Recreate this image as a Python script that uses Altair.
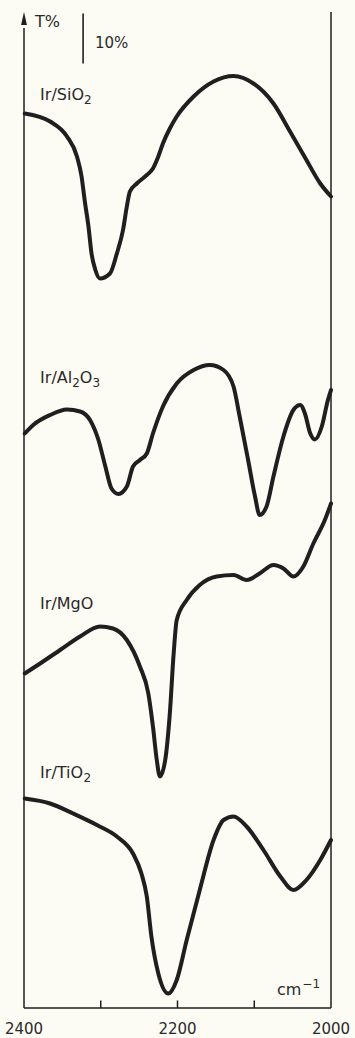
import altair as alt
import pandas as pd

# ---- data ----
sio2_wn = [2399, 2366, 2344, 2331, 2325, 2321, 2316, 2312, 2307, 2301, 2288, 2279, 2271, 2266,
           2262, 2253, 2240, 2232, 2225, 2219, 2210, 2201, 2179, 2153, 2127, 2101, 2075, 2053,
           2032, 2014, 2000]
sio2_t = [178.9, 177.3, 174.3, 170.3, 166.3, 161.6, 156.3, 150.9, 147.6, 145.9, 146.9, 150.9,
          155.6, 160.3, 163.3, 164.9, 166.6, 167.9, 170.3, 172.9, 175.9, 178.3, 182.3, 185.3,
          186.4, 184.9, 180.9, 175.2, 169.6, 164.9, 162.3]

al2o3_wn = [2399, 2388, 2366, 2344, 2327, 2314, 2303, 2294, 2286, 2277, 2266, 2258, 2249, 2240,
            2232, 2219, 2201, 2179, 2158, 2140, 2127, 2119, 2108, 2099, 2093, 2084, 2075, 2062,
            2049, 2040, 2034, 2027, 2021, 2012, 2004, 2000]
al2o3_t = [114.9, 116.6, 118.6, 119.7, 119.3, 117.6, 113.6, 108.3, 103.9, 102.8, 104.3, 108.3,
           109.6, 110.9, 114.9, 120.3, 124.9, 127.6, 128.6, 127.6, 124.3, 118.3, 109.6, 102.3,
           98.6, 100.3, 106.3, 114.3, 119.6, 120.6, 118.9, 114.9, 113.7, 116.3, 121.6, 123.6]

mgo_wn = [2399, 2379, 2353, 2327, 2301, 2284, 2266, 2249, 2238, 2232, 2227, 2223, 2216, 2210,
          2205, 2201, 2188, 2171, 2149, 2127, 2110, 2093, 2075, 2062, 2049, 2036, 2023, 2008, 2000]
mgo_t = [66.9, 68.9, 71.6, 74.3, 76.3, 75.9, 73.6, 68.3, 62.9, 56.3, 49.6, 46.3, 49.6, 58.9,
         70.9, 77.6, 81.6, 84.6, 86.3, 86.6, 85.6, 86.9, 88.6, 87.9, 86.3, 88.3, 92.9, 97.6, 100.9]

tio2_wn = [2399, 2366, 2336, 2305, 2279, 2258, 2247, 2240, 2234, 2225, 2212, 2201, 2188, 2171,
           2153, 2140, 2127, 2110, 2088, 2066, 2049, 2032, 2014, 2000]
tio2_t = [41.9, 40.9, 38.9, 36.6, 34.3, 30.9, 26.9, 22.3, 14.3, 6.9, 2.9, 5.6, 13.6, 23.6,
          33.6, 37.6, 38.3, 36.3, 31.6, 26.3, 23.6, 25.6, 29.6, 33.6]

series_names = ["Ir/SiO2", "Ir/Al2O3", "Ir/MgO", "Ir/TiO2"]
# label pieces: (text, is_subscript)
series_label_parts = [
    [("Ir/SiO", False), ("2", True)],
    [("Ir/Al", False), ("2", True), ("O", False), ("3", True)],
    [("Ir/MgO", False)],
    [("Ir/TiO", False), ("2", True)],
]
label_x = [2379, 2379, 2379, 2379]
label_t = [181.7, 125.0, 79.8, 46.0]

axis_labels = [2400, 2200, 2000]
tick_values = [2300, 2200, 2100]

# ---- build tables ----
rows = []
for name, wns, ts in zip(series_names, [sio2_wn, al2o3_wn, mgo_wn, tio2_wn],
                         [sio2_t, al2o3_t, mgo_t, tio2_t]):
    for w, t in zip(wns, ts):
        rows.append({"wn": w, "T": t, "series": name})
curves = pd.DataFrame(rows)
ticks = pd.DataFrame({"wn": tick_values})
xlabels = pd.DataFrame({"wn": axis_labels, "txt": [str(v) for v in axis_labels]})

xs = alt.Scale(domain=[2000, 2400], reverse=True, nice=False, zero=False)
ys = alt.Scale(domain=[0, 199.2], nice=False, zero=False)
INK = "#1f1f1f"
TXT = "#2a2a2a"
FONT = "DejaVu Sans"
MAIN = 16
SUB = 12

# approximate DejaVu Sans advance widths (em)
ADV = {"I": 0.295, "r": 0.411, "/": 0.337, "S": 0.635, "i": 0.278, "O": 0.787, "A": 0.684,
       "l": 0.278, "M": 0.863, "g": 0.635, "T": 0.611, "2": 0.636, "3": 0.636, "c": 0.55,
       "m": 0.974, "-": 0.361, "1": 0.636}

def text_w(s, size):
    return sum(ADV.get(ch, 0.6) for ch in s) * size

lines = alt.Chart(curves).mark_line(
    color=INK, strokeWidth=4, interpolate="monotone", strokeCap="round", strokeJoin="round"
).encode(
    x=alt.X("wn:Q", scale=xs, axis=None),
    y=alt.Y("T:Q", scale=ys, axis=None),
    detail="series:N",
    order=alt.Order("wn:Q", sort="descending"),
)

def piece(text, wn, t, size, dx=0, dy=0):
    return alt.Chart().mark_text(
        text=text, align="left", baseline="alphabetic", fontSize=size, font=FONT, color=TXT,
        dx=dx, dy=dy
    ).encode(x=alt.X(datum=wn, scale=xs, axis=None), y=alt.Y(datum=t, scale=ys, axis=None))

label_layers = []
for parts, wn, t in zip(series_label_parts, label_x, label_t):
    off = 0.0
    for txt, sub in parts:
        size = SUB if sub else MAIN
        label_layers.append(piece(txt, wn, t, size, dx=off, dy=4 if sub else 0))
        off += text_w(txt, size)

xlabel_text = alt.Chart(xlabels).mark_text(
    align="center", baseline="alphabetic", fontSize=15, font=FONT, color=TXT
).encode(
    x=alt.X("wn:Q", scale=xs, axis=None),
    y=alt.Y(datum=-5.2, scale=ys, axis=None),
    text="txt:N",
)

tick_rules = alt.Chart(ticks).mark_rule(color=INK, strokeWidth=1.5).encode(
    x=alt.X("wn:Q", scale=xs, axis=None),
    y=alt.Y(datum=0, scale=ys, axis=None),
    y2=alt.Y2(datum=1.5),
)

frame_style = dict(color=INK, strokeWidth=1.5)
left_axis = alt.Chart().mark_rule(**frame_style).encode(
    x=alt.X(datum=2400, scale=xs, axis=None),
    y=alt.Y(datum=0, scale=ys, axis=None), y2=alt.Y2(datum=196))
right_axis = alt.Chart().mark_rule(**frame_style).encode(
    x=alt.X(datum=2000, scale=xs, axis=None),
    y=alt.Y(datum=0, scale=ys, axis=None), y2=alt.Y2(datum=199.2))
bottom_axis = alt.Chart().mark_rule(**frame_style).encode(
    x=alt.X(datum=2400, scale=xs, axis=None), x2=alt.X2(datum=2000),
    y=alt.Y(datum=0, scale=ys, axis=None))
arrow = alt.Chart().mark_point(
    shape="M0,-1L0.45,1L-0.45,1Z", filled=True, color=INK, opacity=1, size=169
).encode(
    x=alt.X(datum=2400, scale=xs, axis=None),
    y=alt.Y(datum=197.9, scale=ys, axis=None))

scale_bar = alt.Chart().mark_rule(color=INK, strokeWidth=1.6).encode(
    x=alt.X(datum=2323, scale=xs, axis=None),
    y=alt.Y(datum=198.9, scale=ys, axis=None), y2=alt.Y2(datum=188.9))

notes = [
    piece("T%", 2385.7, 196.2, 16),
    piece("10%", 2307.5, 192.0, 15),
    piece("cm", 2070.4, 2.6, 16),
    piece("−1", 2070.4, 2.6, SUB, dx=text_w("cm", 16) + 1, dy=-7),
]

chart = alt.layer(
    lines, *label_layers, xlabel_text, tick_rules, left_axis, right_axis, bottom_axis, arrow,
    scale_bar, *notes,
).properties(
    width=307, height=996,
    autosize=alt.AutoSizeParams(type="none"),
    padding={"left": 24, "top": 12, "right": 24, "bottom": 30},
    background="#fcfbf4",
).configure_view(stroke=None)

chart.save("out.html", embed_options={"renderer": "svg", "actions": False})
